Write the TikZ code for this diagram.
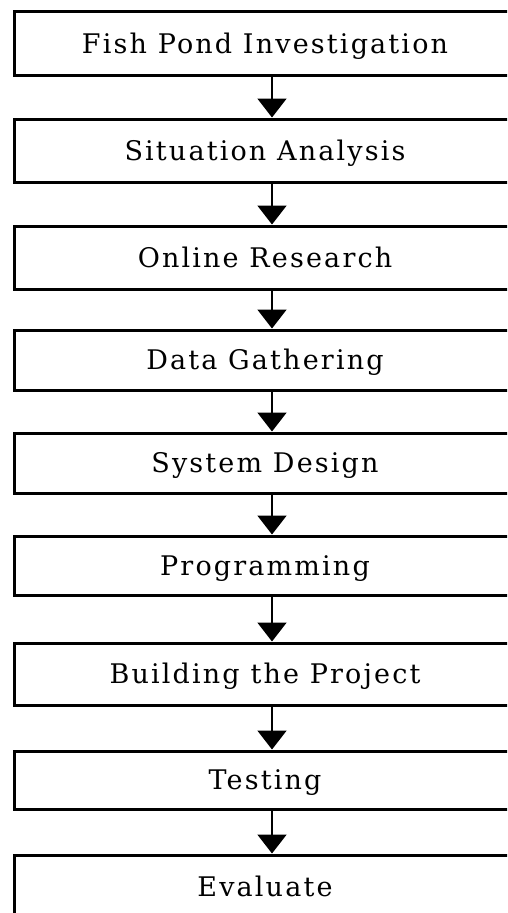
\documentclass[tikz,border=0pt]{standalone}
\usepackage{fontspec}
\setmainfont{DejaVu Serif}[LetterSpace=8]
\usetikzlibrary{arrows.meta}
\begin{document}
\begin{tikzpicture}[x=1pt,y=-1pt,
  stepbox/.style={draw=black, line width=3pt, minimum width=502pt, inner sep=0pt,
    text height=19.7pt, text depth=0pt, font=\fontsize{27}{30}\selectfont},
  flow/.style={draw=black, line width=2pt, -{Triangle[width=29pt,length=19pt]}}]
\useasboundingbox (0,0) rectangle (507,913);
\clip (0,0) rectangle (507,913);
\coordinate (ax) at (272,0);
\node[stepbox, minimum height=64.5pt] (b1) at (265,43.25) {Fish Pond Investigation};
\node[stepbox, minimum height=63pt] (b2) at (265,150.5) {Situation Analysis};
\node[stepbox, minimum height=63pt] (b3) at (265,257.5) {Online Research};
\node[stepbox, minimum height=60pt] (b4) at (265,360) {Data Gathering};
\node[stepbox, minimum height=60pt] (b5) at (265,463) {System Design};
\node[stepbox, minimum height=59pt] (b6) at (265,565.5) {Programming};
\node[stepbox, minimum height=62pt] (b7) at (265,674) {Building the Project};
\node[stepbox, minimum height=58pt] (b8) at (265,780) {Testing};
\node[stepbox, minimum height=64pt] (b9) at (265,887) {Evaluate};
\foreach \a/\b in {b1/b2,b2/b3,b3/b4,b4/b5,b5/b6,b6/b7,b7/b8,b8/b9}
  \draw[flow] (\a.south -| ax) -- (\b.north -| ax);
\end{tikzpicture}
\end{document}
